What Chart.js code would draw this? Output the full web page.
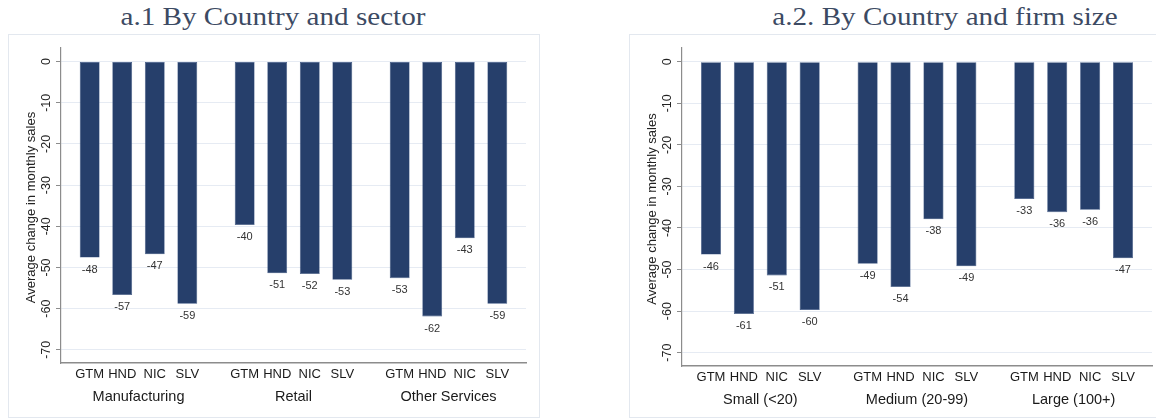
<!DOCTYPE html>
<html>
<head>
<meta charset="utf-8">
<script src="https://cdn.jsdelivr.net/npm/chart.js@4.4.1/dist/chart.umd.min.js"></script>
<style>
  html, body { margin: 0; padding: 0; background: #fff; }
  body { position: relative; width: 1156px; height: 420px; overflow: hidden; font-family: "Liberation Sans", Arial, sans-serif; }
  .panel { position: absolute; border: 1px solid #e3e8ef; box-sizing: border-box; }
  .ttl { position: absolute; font-family: "Liberation Serif", "Times New Roman", serif; font-size: 26px; line-height: 30px;
         color: #3c4a63; white-space: nowrap; transform: translateX(-50%) scaleX(1.12); }
  canvas { position: absolute; }
</style>
</head>
<body>
<div class="ttl" style="left:273px; top:2px;">a.1 By Country and sector</div>
<div class="ttl" style="left:945px; top:2px;">a.2. By Country and firm size</div>
<div class="panel" style="left:8px; top:34px; width:532px; height:384px;"></div>
<div class="panel" style="left:629px; top:34px; width:560px; height:384px;"></div>
<canvas id="sectorChart" width="531" height="386" style="left:8px; top:34px;"></canvas>
<canvas id="sizeChart" width="527" height="386" style="left:629px; top:34px;"></canvas>

<script>
// Countries (one bar per country in every group)
const countries = ['GTM', 'HND', 'NIC', 'SLV'];

// Panel a.1: groups by sector
const sectors = ['Manufacturing', 'Retail', 'Other Services'];
const gtmBySector = [-47.6, -39.7, -52.6];
const hndBySector = [-56.7, -51.4, -61.9];
const nicBySector = [-46.8, -51.6, -42.9];
const slvBySector = [-58.8, -53.0, -58.8];

// Panel a.2: groups by firm size
const firmSizes = ['Small (<20)', 'Medium (20-99)', 'Large (100+)'];
const gtmBySize = [-46.4, -48.6, -33.0];
const hndBySize = [-60.7, -54.2, -36.2];
const nicBySize = [-51.4, -37.9, -35.6];
const slvBySize = [-59.7, -49.2, -47.3];

// Y axis ticks and title
const yTicks = [0, -10, -20, -30, -40, -50, -60, -70];
const yTitle = 'Average change in monthly sales';

const BAR = '#263f6b';
const SANS = '"Liberation Sans", Arial, sans-serif';

// Rotated y tick labels, y title, country names, group names and value labels
const panelText = {
  id: 'panelText',
  afterDatasetsDraw(chart) {
    const ctx = chart.ctx;
    const area = chart.chartArea;
    const x = chart.scales.x;
    const y = chart.scales.y;
    ctx.save();
    ctx.fillStyle = '#222';
    ctx.textAlign = 'center';
    ctx.textBaseline = 'middle';

    ctx.font = '12.5px ' + SANS;
    yTicks.forEach(v => {
      ctx.save();
      ctx.translate(area.left - 14.5, y.getPixelForValue(v));
      ctx.rotate(-Math.PI / 2);
      ctx.fillText(String(v), 0, 0);
      ctx.restore();
    });

    ctx.save();
    ctx.font = '13px ' + SANS;
    ctx.translate(area.left - 29.5, (area.top + area.bottom) / 2 + 2);
    ctx.rotate(-Math.PI / 2);
    ctx.fillText(yTitle, 0, 0);
    ctx.restore();

    chart.data.datasets.forEach((ds, di) => {
      const meta = chart.getDatasetMeta(di);
      meta.data.forEach((bar, i) => {
        ctx.fillStyle = '#333';
        ctx.font = '11px ' + SANS;
        ctx.fillText(String(Math.round(ds.data[i])), bar.x, bar.y + 12);
        ctx.fillStyle = '#1a1a1a';
        ctx.font = '13px ' + SANS;
        ctx.fillText(ds.label, bar.x, area.bottom + 11.5);
      });
    });

    ctx.fillStyle = '#1a1a1a';
    ctx.font = '14.5px ' + SANS;
    chart.data.labels.forEach((g, i) => {
      ctx.fillText(g, x.getPixelForValue(i), area.bottom + 34);
    });
    ctx.restore();
  }
};

function makeChart(id, groups, series, padRight, padBottom) {
  return new Chart(document.getElementById(id), {
    type: 'bar',
    data: {
      labels: groups,
      datasets: countries.map((c, k) => ({
        label: c,
        data: series[k],
        backgroundColor: BAR,
        borderColor: '#3a5482',
        borderWidth: 0.6,
        borderSkipped: false
      }))
    },
    options: {
      responsive: false,
      animation: false,
      events: [],
      barPercentage: 0.61,
      categoryPercentage: 0.84,
      layout: { padding: { left: 48, right: padRight, top: 14, bottom: padBottom } },
      plugins: { legend: { display: false }, tooltip: { enabled: false } },
      scales: {
        x: {
          grid: { display: false, drawTicks: false },
          border: { display: true, color: '#8c8c8c', width: 1.5 },
          ticks: { display: false }
        },
        y: {
          min: -73.2,
          max: 3.3,
          afterBuildTicks: s => { s.ticks = yTicks.map(v => ({ value: v })); },
          grid: { color: '#e6ebf3', lineWidth: 1, drawTicks: true, tickLength: 5, tickColor: '#8c8c8c' },
          border: { display: true, color: '#8c8c8c', width: 1.2 },
          ticks: { display: false }
        }
      }
    },
    plugins: [panelText]
  });
}

makeChart('sectorChart', sectors, [gtmBySector, hndBySector, nicBySector, slvBySector], 13, 57);
makeChart('sizeChart', firmSizes, [gtmBySize, hndBySize, nicBySize, slvBySize], 4, 54);
</script>
</body>
</html>
